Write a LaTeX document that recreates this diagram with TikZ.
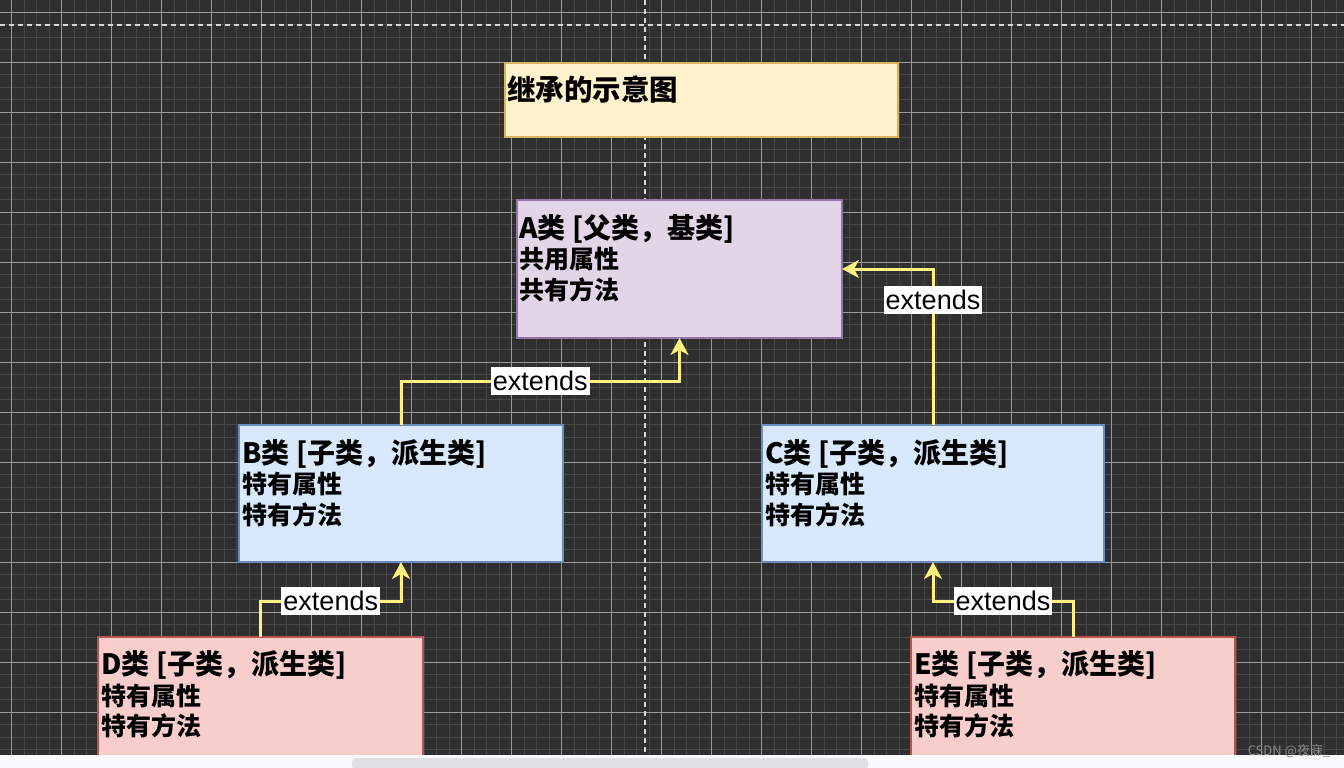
\documentclass[tikz,border=0pt]{standalone}
\usepackage{fontspec}
\setmainfont{Liberation Sans}
\newfontfamily\cjk{Noto Sans CJK SC}
\usepackage{tikz}
\usetikzlibrary{arrows.meta, positioning, calc}
\usepackage{xcolor}
\definecolor{CanvasBg}{HTML}{2F2F2F}
\definecolor{GridMinor}{HTML}{474747}
\definecolor{GridMajor}{HTML}{9A9A9A}
\definecolor{PageLine}{HTML}{D8D8D8}
\definecolor{TitleFill}{HTML}{FFF2CC}
\definecolor{TitleDraw}{HTML}{D6B656}
\definecolor{ParentFill}{HTML}{E1D5E7}
\definecolor{ParentDraw}{HTML}{9673A6}
\definecolor{ChildFill}{HTML}{DAE8FC}
\definecolor{ChildDraw}{HTML}{6C8EBF}
\definecolor{LeafFill}{HTML}{F8CECC}
\definecolor{LeafDraw}{HTML}{B85450}
\definecolor{ExtendYellow}{HTML}{FFF07F}
\definecolor{StripFill}{HTML}{F8F9FA}
\definecolor{ThumbFill}{HTML}{DEE1E3}
\definecolor{MarkGray}{HTML}{8A8A8A}
% Heading line of a class box: Latin in Arial-like bold, Chinese in CJK bold
\newcommand{\classhead}[2]{{\fontsize{28pt}{30.5pt}\selectfont\bfseries #1{\cjk\bfseries 类} [{\cjk\bfseries #2}]}}
\tikzset{
    % Box styles - sharp corners, sizes in px
    classbox/.style={
        rectangle,
        line width=1.5pt,
        inner sep=0pt,
        outer sep=0pt,
        anchor=north west
    },
    boxtext/.style={
        anchor=north west,
        inner sep=0pt,
        align=left,
        font=\cjk\bfseries\fontsize{25pt}{30.5pt}\selectfont
    },
    % Arrow styles
    extendarrow/.style={
        draw=ExtendYellow,
        line width=3pt,
        -{Stealth[length=17pt,width=18pt,inset=5pt]}
    },
    extendlabel/.style={
        fill=white,
        text=black,
        inner xsep=2pt,
        inner ysep=0pt,
        minimum height=28pt,
        font=\fontsize{27pt}{30pt}\selectfont
    },
    % Canvas styles
    gridminor/.style={draw=GridMinor, line width=1pt},
    gridmajor/.style={draw=GridMajor, line width=1pt},
    pageline/.style={draw=PageLine, line width=1.5pt, dash pattern=on 5pt off 4pt}
}
\begin{document}
\begin{tikzpicture}[x=1pt, y=-1pt]
    \useasboundingbox (0,0) rectangle (1344,768);
    \clip (0,0) rectangle (1344,768);

    % Canvas and grid
    \fill[CanvasBg] (0,0) rectangle (1344,768);
    \foreach \k in {0,...,106}
        \draw[gridminor] ({11.7+12.5*\k},0) -- ++(0,768);
    \foreach \k in {0,...,60}
        \draw[gridminor] (0,{12.3+12.5*\k}) -- ++(1344,0);
    \foreach \k in {0,...,26}
        \draw[gridmajor] ({11.7+50*\k},0) -- ++(0,768);
    \foreach \k in {0,...,15}
        \draw[gridmajor] (0,{12.3+50*\k}) -- ++(1344,0);

    % Page break lines
    \draw[pageline] (645,0) -- (645,768);
    \draw[pageline] (0,25) -- (1344,25);

    % Title
    \node[classbox, fill=TitleFill, draw=TitleDraw, minimum width=393pt, minimum height=74pt] (title) at (505,63) {};
    \node[boxtext, font=\cjk\bfseries\fontsize{28.5pt}{34pt}\selectfont] (titletext) at ($(title.north west)+(2,12.5)$) {继承的示意图};

    % Classes
    \node[classbox, fill=ParentFill, draw=ParentDraw, minimum width=325pt, minimum height=138pt] (boxA) at (517,200) {};
    \node[boxtext] (textA) at ($(boxA.north west)+(2,14)$) {\classhead{A}{父类，基类}\\共用属性\\共有方法};

    \node[classbox, fill=ChildFill, draw=ChildDraw, minimum width=324pt, minimum height=137pt] (boxB) at (239,425) {};
    \node[boxtext] (textB) at ($(boxB.north west)+(3,14)$) {\classhead{B}{子类，派生类}\\特有属性\\特有方法};

    \node[classbox, fill=ChildFill, draw=ChildDraw, minimum width=342pt, minimum height=137pt] (boxC) at (762,425) {};
    \node[boxtext] (textC) at ($(boxC.north west)+(3,14)$) {\classhead{C}{子类，派生类}\\特有属性\\特有方法};

    \node[classbox, fill=LeafFill, draw=LeafDraw, minimum width=325pt, minimum height=137pt] (boxD) at (98,637) {};
    \node[boxtext] (textD) at ($(boxD.north west)+(3,13.5)$) {\classhead{D}{子类，派生类}\\特有属性\\特有方法};

    \node[classbox, fill=LeafFill, draw=LeafDraw, minimum width=324pt, minimum height=137pt] (boxE) at (911,637) {};
    \node[boxtext] (textE) at ($(boxE.north west)+(3,13.5)$) {\classhead{E}{子类，派生类}\\特有属性\\特有方法};

    % Inheritance arrows
    \draw[extendarrow] (boxB.north) -- ++(0,-44) -| node[pos=0.25, extendlabel] (labelBA) {extends} (boxA.south);
    \draw[extendarrow] (boxC.north) |- node[pos=0.4, extendlabel] (labelCA) {extends} (boxA.east);
    \draw[extendarrow] (boxD.north) -- ++(0,-36) -| node[pos=0.25, extendlabel] (labelDB) {extends} (boxB.south);
    \draw[extendarrow] (boxE.north) -- ++(0,-36) -| node[pos=0.25, extendlabel] (labelEC) {extends} (boxC.south);

    % Window strip
    \fill[StripFill] (0,755) rectangle (1344,768);
    \fill[ThumbFill, rounded corners=4pt] (352,758) rectangle (868,770);
    \node[font=\cjk\fontsize{13pt}{13pt}\selectfont, text=MarkGray, inner sep=0pt] (mark) at (1289,751) {CSDN @夜寐\_};
\end{tikzpicture}
\end{document}
